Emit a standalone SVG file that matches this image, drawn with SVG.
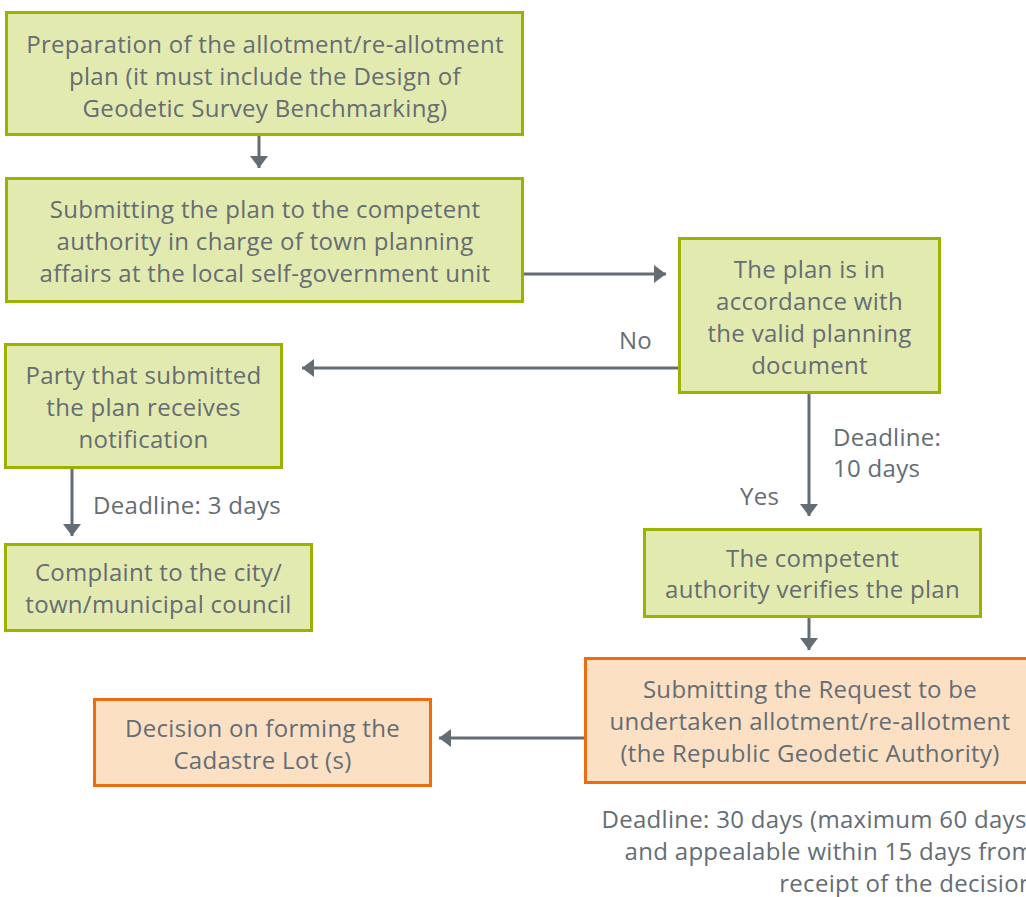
<svg xmlns="http://www.w3.org/2000/svg" width="1026" height="897" viewBox="0 0 1026 897">
<style>
.g{fill:#e3eaaf;stroke:#9cb100;stroke-width:3}
.o{fill:#fce0c4;stroke:#ec6c12;stroke-width:3}
text{font-family:"Open Sans","Liberation Sans",sans-serif;font-size:24px;letter-spacing:0.3px;fill:#656d74}
.c{text-anchor:middle}
.e{text-anchor:end}
.ln{stroke:#656d74;stroke-width:3;fill:none}
</style>
<defs>
<marker id="ah" viewBox="0 0 12 18" refX="12" refY="9" markerWidth="12" markerHeight="18" markerUnits="userSpaceOnUse" orient="auto">
<path d="M0,0L12,9L0,18Z" fill="#656d74"/>
</marker>
</defs>
<rect width="1026" height="897" fill="#fff"/>
<g id="connectors">
<line class="ln" x1="259" y1="136" x2="259" y2="168" marker-end="url(#ah)"/>
<line class="ln" x1="524" y1="274" x2="666" y2="274" marker-end="url(#ah)"/>
<line class="ln" x1="678" y1="368" x2="302" y2="368" marker-end="url(#ah)"/>
<line class="ln" x1="72" y1="469" x2="72" y2="536" marker-end="url(#ah)"/>
<line class="ln" x1="809" y1="394" x2="809" y2="516" marker-end="url(#ah)"/>
<line class="ln" x1="809" y1="618" x2="809" y2="650" marker-end="url(#ah)"/>
<line class="ln" x1="584" y1="738" x2="439" y2="738" marker-end="url(#ah)"/>
<text x="619" y="349">No</text>
<text x="93" y="514">Deadline: 3 days</text>
<text x="833" y="446">Deadline:</text>
<text x="833" y="477">10 days</text>
<text x="740" y="505">Yes</text>
</g>
<g id="n1">
<rect class="g" x="6.5" y="12.5" width="516" height="122"/>
<text class="c" x="265" y="53">Preparation of the allotment/re-allotment</text>
<text class="c" x="265" y="85">plan (it must include the Design of</text>
<text class="c" x="265" y="117">Geodetic Survey Benchmarking)</text>
</g>
<g id="n2">
<rect class="g" x="6.5" y="178.5" width="516" height="123"/>
<text class="c" x="265" y="218">Submitting the plan to the competent</text>
<text class="c" x="265" y="250">authority in charge of town planning</text>
<text class="c" x="265" y="282">affairs at the local self-government unit</text>
</g>
<g id="n3">
<rect class="g" x="679.5" y="238.5" width="260" height="154"/>
<text class="c" x="809.5" y="278">The plan is in</text>
<text class="c" x="809.5" y="310">accordance with</text>
<text class="c" x="809.5" y="342">the valid planning</text>
<text class="c" x="809.5" y="374">document</text>
</g>
<g id="n4">
<rect class="g" x="5.5" y="344.5" width="276" height="123"/>
<text class="c" x="143.5" y="384">Party that submitted</text>
<text class="c" x="143.5" y="416">the plan receives</text>
<text class="c" x="143.5" y="448">notification</text>
</g>
<g id="n5">
<rect class="g" x="5.5" y="544.5" width="306" height="86"/>
<text class="c" x="158.5" y="581">Complaint to the city/</text>
<text class="c" x="158.5" y="613">town/municipal council</text>
</g>
<g id="n6">
<rect class="g" x="644.5" y="529.5" width="336" height="87"/>
<text class="c" x="812.5" y="567">The competent</text>
<text class="c" x="812.5" y="598">authority verifies the plan</text>
</g>
<g id="n7">
<rect class="o" x="585.5" y="658.5" width="450" height="124"/>
<text class="c" x="810" y="698">Submitting the Request to be</text>
<text class="c" x="810" y="730">undertaken allotment/re-allotment</text>
<text class="c" x="810" y="762">(the Republic Geodetic Authority)</text>
</g>
<g id="n8">
<rect class="o" x="94.5" y="699.5" width="336" height="86"/>
<text class="c" x="262.5" y="737">Decision on forming the</text>
<text class="c" x="262.5" y="769">Cadastre Lot (s)</text>
</g>
<g id="note">
<text class="e" x="1034" y="828">Deadline: 30 days (maximum 60 days)</text>
<text class="e" x="1034" y="860">and appealable within 15 days from</text>
<text class="e" x="1034" y="892">receipt of the decision</text>
</g>
</svg>
